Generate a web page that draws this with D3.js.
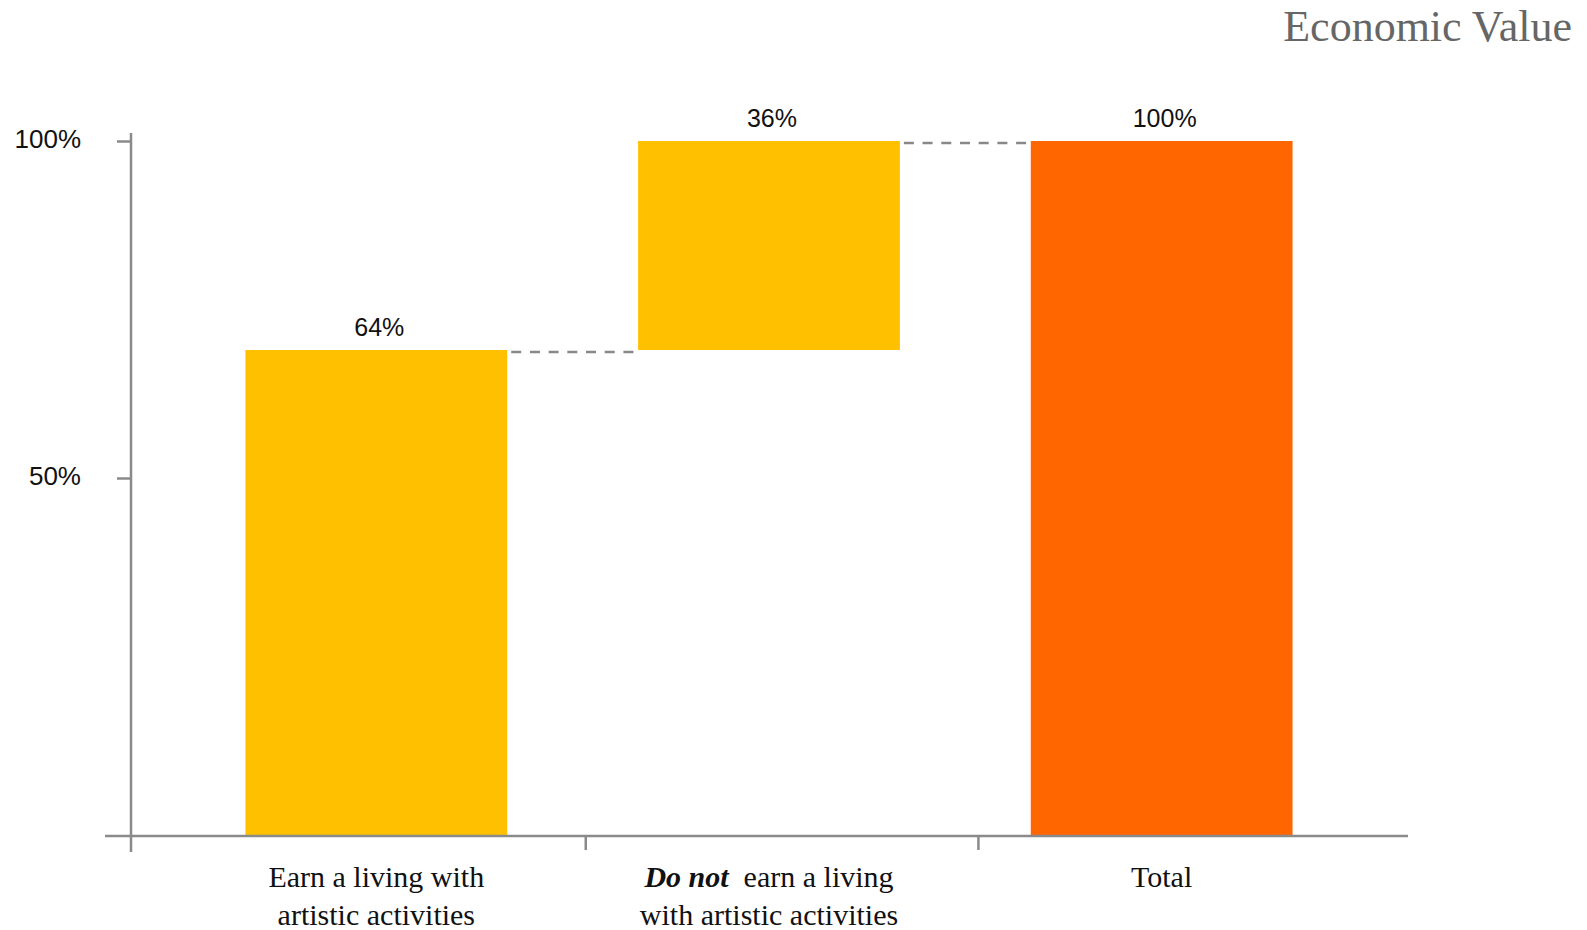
<!DOCTYPE html>
<html>
<head>
<meta charset="utf-8">
<script src="https://cdn.jsdelivr.net/npm/d3@7"></script>
<style>
  body { margin: 0; background: #fff; }
  .val { font-family: "Liberation Sans", Arial, sans-serif; font-size: 25px; fill: #111; }
  .cat { font-family: "Liberation Serif", "Times New Roman", serif; font-size: 30px; fill: #111; }
</style>
</head>
<body>
<div id="chart"></div>
<script>
// chart size
const width = 1587;
const height = 930;

// data
const categories = ["Earn a living with|artistic activities", "Do not|earn a living|with artistic activities", "Total"];
const values = [64, 36, 100];
const isTotal = [false, false, true];
const yTicks = [50, 100];

const svg = d3.select("#chart")
  .append("svg")
  .attr("width", width)
  .attr("height", height);

// running base for the waterfall
let running = 0;
const bars = values.map((v, i) => {
  let start = isTotal[i] ? 0 : running;
  let end = isTotal[i] ? v : running + v;
  if (!isTotal[i]) running = end;
  return {cat: categories[i], value: v, start: start, end: end, total: isTotal[i]};
});

// the original axis is not evenly spaced, so the scale has a few stops
const yScale = d3.scaleLinear()
  .domain([0, 50, 64, 100])
  .range([836, 478, 350, 141]);

const xScale = d3.scaleBand()
  .domain(categories)
  .range([180, 1358])
  .paddingInner(1/3)
  .paddingOuter(1/6);

// title
svg.append("text")
  .attr("x", 1572)
  .attr("y", 41)
  .attr("text-anchor", "end")
  .attr("font-family", "'Liberation Serif', serif")
  .attr("font-size", "44px")
  .attr("fill", "#666")
  .text("Economic Value");

// y axis
const yAxis = svg.append("g")
  .attr("transform", "translate(131,0)")
  .call(d3.axisLeft(yScale).tickValues(yTicks).tickFormat(d => d + "%").tickSize(14).tickPadding(36));
yAxis.select(".domain").remove();
yAxis.selectAll(".tick line").attr("stroke", "#8a8a8a").attr("stroke-width", 2.5);
yAxis.selectAll(".tick text")
  .attr("font-family", "'Liberation Sans', Arial, sans-serif")
  .attr("font-size", "26px")
  .attr("fill", "#111")
  .attr("dy", "0.25em");

svg.append("line")
  .attr("x1", 131).attr("x2", 131)
  .attr("y1", 133).attr("y2", 852)
  .attr("stroke", "#8a8a8a").attr("stroke-width", 2.5);

// bars
svg.selectAll(".bar")
  .data(bars)
  .enter()
  .append("rect")
  .attr("class", "bar")
  .attr("x", d => xScale(d.cat))
  .attr("y", d => yScale(d.end))
  .attr("width", xScale.bandwidth())
  .attr("height", d => yScale(d.start) - yScale(d.end))
  .attr("fill", d => d.total ? "#FF6600" : "#FFC000");

// x axis line and separators
svg.append("line")
  .attr("x1", 105).attr("x2", 1408)
  .attr("y1", yScale(0)).attr("y2", yScale(0))
  .attr("stroke", "#8a8a8a").attr("stroke-width", 2.5);

const gap = xScale.step() * xScale.paddingInner() * 0.4;
svg.selectAll(".sep")
  .data(categories.slice(1))
  .enter()
  .append("line")
  .attr("x1", d => xScale(d) - gap).attr("x2", d => xScale(d) - gap)
  .attr("y1", yScale(0)).attr("y2", yScale(0) + 14)
  .attr("stroke", "#8a8a8a").attr("stroke-width", 2.5);

// dashed connectors
svg.selectAll(".conn")
  .data(bars.slice(0, -1))
  .enter()
  .append("line")
  .attr("x1", d => xScale(d.cat) + xScale.bandwidth() + 4)
  .attr("x2", (d, i) => xScale(bars[i + 1].cat) - 4)
  .attr("y1", d => yScale(d.end) + 2)
  .attr("y2", d => yScale(d.end) + 2)
  .attr("stroke", "#888")
  .attr("stroke-width", 2.7)
  .attr("stroke-dasharray", "10,8.7");

// value labels
svg.selectAll(".val")
  .data(bars)
  .enter()
  .append("text")
  .attr("class", "val")
  .attr("x", d => xScale(d.cat) + xScale.bandwidth() / 2 + 3)
  .attr("y", d => yScale(d.end) - 14)
  .attr("text-anchor", "middle")
  .text(d => d.value + "%");

// category labels (two lines, "Do not" in bold italic)
bars.forEach(d => {
  const cx = xScale(d.cat) + xScale.bandwidth() / 2;
  const parts = d.cat.split("|");
  const t = svg.append("text").attr("class", "cat").attr("text-anchor", "middle");
  if (parts.length === 3) {
    const l1 = t.append("tspan").attr("x", cx).attr("y", 887);
    l1.append("tspan").attr("font-weight", "bold").attr("font-style", "italic").text(parts[0]);
    l1.append("tspan").text("\u00a0 " + parts[1]);
    t.append("tspan").attr("x", cx).attr("y", 925).text(parts[2]);
  } else {
    parts.forEach((p, j) => {
      t.append("tspan").attr("x", cx).attr("y", 887 + j * 38).text(p);
    });
  }
});
</script>
</body>
</html>
